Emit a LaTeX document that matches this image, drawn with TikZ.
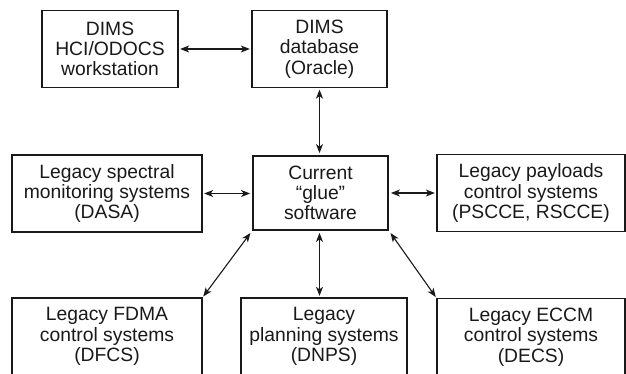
\documentclass[tikz,border=0pt]{standalone}
\usepackage{fontspec}
\setmainfont{Liberation Sans}
\usetikzlibrary{arrows.meta,calc}
\begin{document}
\begin{tikzpicture}[x=1pt,y=-1pt,
  box/.style={draw=black!90,line width=1.3pt,minimum height=77pt,inner sep=0pt,
    align=center,font=\fontsize{19.3}{20.3}\selectfont,text=black!90},
  gluebox/.style={box,line width=2.8pt},
  link/.style={line width=1.1pt,draw=black!90,
    {Stealth[length=9pt,width=7pt,inset=2.5pt]}-{Stealth[length=9pt,width=7pt,inset=2.5pt]},
    shorten <=1.5pt,shorten >=1.5pt}]
\useasboundingbox (0,0) rectangle (626,373);
\clip (0,0) rectangle (626,373);
\node[box,minimum width=136pt] (hci) at (110,49) {DIMS\\HCI/ODOCS\\workstation};
\node[box,minimum width=135pt] (db) at (319.5,49) {DIMS\\database\\(Oracle)};
\node[gluebox,minimum width=135pt,minimum height=74pt] (glue) at (320.5,193) {Current\\“glue”\\software};
\node[box,minimum width=190pt] (spec) at (107,193.5) {Legacy spectral\\monitoring systems\\(DASA)};
\node[box,minimum width=188pt] (pay) at (531,193) {Legacy payloads\\control systems\\(PSCCE, RSCCE)};
\node[box,minimum width=190pt] (fdma) at (107,336.5) {Legacy FDMA\\control systems\\(DFCS)};
\node[box,minimum width=166pt] (plan) at (324,336.5) {Legacy\\planning systems\\(DNPS)};
\node[box,minimum width=188pt] (decs) at (531,337) {Legacy ECCM\\control systems\\(DECS)};
\draw[link] (hci) -- (db);
\draw[link] (db.south) -- (db.south |- glue.north);
\draw[link] (spec.east) -- (spec.east -| glue.west);
\draw[link] (glue.east |- pay.west) -- (pay.west);
\draw[link,shorten <=2pt,shorten >=1pt] (glue.south west) -- (fdma.north east);
\draw[link] (db.south |- glue.south) -- (db.south |- plan.north);
\draw[link,shorten <=2pt,shorten >=1pt] (glue.south east) -- (decs.north west);
\end{tikzpicture}
\end{document}
